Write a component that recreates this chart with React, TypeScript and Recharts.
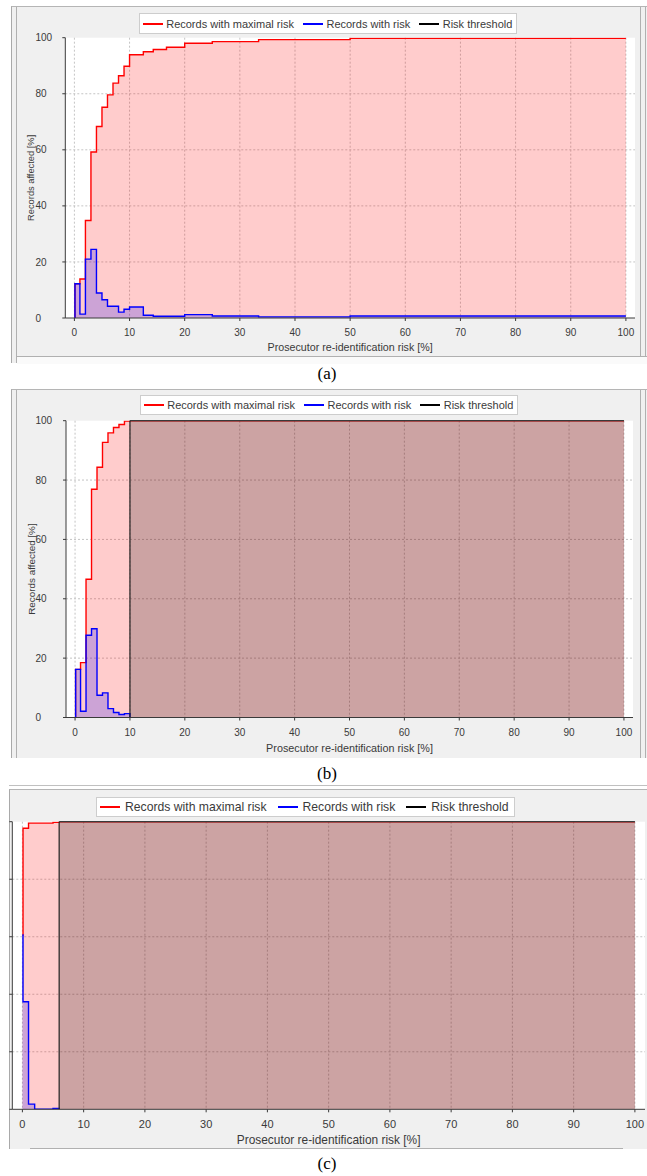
import React from "react";
import {
  ComposedChart,
  Area,
  XAxis,
  YAxis,
  CartesianGrid,
  ReferenceArea,
  ReferenceLine,
  Label,
} from "recharts";

// risk interval start points [%] and the share of records in each interval
const binsA = [0, 0.1, 1, 2, 3, 4, 5, 6, 7, 8, 9, 10, 12.5, 14.3, 16.7, 20, 25, 33.4, 50, 100];
const maxRiskA = [0, 12.2, 13.9, 34.8, 59.2, 68.3, 75.2, 79.6, 83.8, 86.4, 89.8, 93.9, 95.0, 95.8, 96.6, 98.0, 98.6, 99.3, 99.8, 99.8];
const withRiskA = [0, 12.2, 1.4, 21.0, 24.5, 8.9, 6.5, 4.2, 4.2, 2.1, 3.1, 3.9, 1.0, 0.6, 0.6, 1.2, 0.7, 0.4, 0.7, 0.7];

// nothing is drawn for the "with risk" series past the threshold
const binsB = [0, 0.1, 1, 2, 3, 4, 5, 6, 7, 8, 9, 10, 100];
const maxRiskB = [0, 16.2, 18.5, 46.6, 76.9, 84.3, 92.7, 95.9, 97.7, 98.7, 99.9, 100, 100];
const withRiskB = [0, 16.2, 2.1, 27.7, 29.9, 7.5, 8.3, 3.0, 1.7, 1.0, 1.3, 0, null];
const thresholdB = 10;

const binsC = [0, 0.1, 1, 2, 5, 6, 100];
const maxRiskC = [60.6, 97.7, 99.5, 99.5, 99.8, 100, 100];
const withRiskC = [60.6, 37.4, 1.8, 0, 0.3, 0, null];
const thresholdC = 6;

const xTicks = [0, 10, 20, 30, 40, 50, 60, 70, 80, 90, 100];
const yTicks = [0, 20, 40, 60, 80, 100];
const gridY = [20, 40, 60, 80];

const legendItems = [
  { label: "Records with maximal risk", color: "#ff0000" },
  { label: "Records with risk", color: "#0000ff" },
  { label: "Risk threshold", color: "#000000" },
];

const FONT = '"Liberation Sans", Arial, sans-serif';
const TEXT = "#3a3a3a";

function toRows(bins: number[], maxRisk: number[], withRisk: (number | null)[]) {
  return bins.map((x, i) => ({ x, maxRisk: maxRisk[i], withRisk: withRisk[i] }));
}

interface LegendProps {
  left: number;
  top: number;
  height: number;
  fontSize: number;
  lineW: number;
  gap: number;
  itemGap: number;
  padL: number;
  padR: number;
}

function LegendBox({ left, top, height, fontSize, lineW, gap, itemGap, padL, padR }: LegendProps) {
  return (
    <div
      style={{
        position: "absolute",
        left,
        top,
        height,
        boxSizing: "border-box",
        display: "flex",
        alignItems: "center",
        background: "#fff",
        border: "1px solid #cdcdcd",
        paddingLeft: padL,
        paddingRight: padR,
        fontFamily: FONT,
        fontSize,
        color: TEXT,
        whiteSpace: "nowrap",
      }}
    >
      {legendItems.map((it, i) => (
        <span key={it.label} style={{ display: "flex", alignItems: "center", marginLeft: i ? itemGap : 0 }}>
          <span style={{ display: "inline-block", width: lineW, height: 2, background: it.color, marginRight: gap }} />
          {it.label}
        </span>
      ))}
    </div>
  );
}

interface PanelProps {
  top: number;
  height: number;
  rows: { x: number; maxRisk: number; withRisk: number | null }[];
  threshold?: number;
  margin: { top: number; right: number; bottom: number; left: number };
  yAxisWidth: number;
  yTickX?: number;
  tickFont: number;
  xLabelFont: number;
  xLabelOffset: number;
  yLabelFont?: number;
}

function RiskPanel(p: PanelProps) {
  const yTick = (t: any) =>
    p.yTickX !== undefined ? (
      <text x={p.yTickX} y={t.y} dy={p.tickFont * 0.36} textAnchor="start" fontSize={p.tickFont} fill={TEXT} fontFamily={FONT}>
        {t.payload.value}
      </text>
    ) : (
      <g />
    );

  return (
    <div style={{ position: "absolute", left: 0, top: p.top }}>
      <ComposedChart width={647} height={p.height} data={p.rows} margin={p.margin}>
        <CartesianGrid stroke="#c4c4c4" strokeDasharray="2 2" fill="#fff" horizontalValues={gridY} verticalValues={xTicks} />
        <XAxis
          dataKey="x"
          type="number"
          domain={[-1.65, 101.65]}
          ticks={xTicks}
          allowDataOverflow
          height={40}
          tickSize={3}
          tickMargin={8}
          stroke="#3a3a3a"
          tick={{ fontSize: p.tickFont, fill: TEXT, fontFamily: FONT }}
        >
          <Label
            value="Prosecutor re-identification risk [%]"
            position="insideBottom"
            offset={p.xLabelOffset}
            fontSize={p.xLabelFont}
            fill={TEXT}
            fontFamily={FONT}
          />
        </XAxis>
        <YAxis
          type="number"
          domain={[0, 100]}
          ticks={yTicks}
          allowDataOverflow
          width={p.yAxisWidth}
          tickSize={3}
          stroke="#3a3a3a"
          tick={yTick}
        >
          {p.yLabelFont !== undefined && (
            <Label
              value="Records affected [%]"
              angle={-90}
              position="insideLeft"
              offset={5}
              style={{ textAnchor: "middle" }}
              fontSize={p.yLabelFont}
              fill={TEXT}
              fontFamily={FONT}
            />
          )}
        </YAxis>
        <Area
          type="stepAfter"
          dataKey="maxRisk"
          stroke="#ff0000"
          strokeWidth={1.4}
          fill="#ff0000"
          fillOpacity={0.2}
          dot={false}
          activeDot={false}
          isAnimationActive={false}
        />
        <Area
          type="stepAfter"
          dataKey="withRisk"
          stroke="#0000ff"
          strokeWidth={1.4}
          fill="#0000ff"
          fillOpacity={0.2}
          dot={false}
          activeDot={false}
          isAnimationActive={false}
        />
        {p.threshold !== undefined && (
          <ReferenceArea x1={p.threshold} x2={100} y1={0} y2={100} fill="#000" fillOpacity={0.2} stroke="none" zIndex={150} />
        )}
        {p.threshold !== undefined && <ReferenceLine x={p.threshold} stroke="#222" strokeWidth={1.2} zIndex={150} />}
        {p.threshold !== undefined && (
          <ReferenceLine
            segment={[
              { x: p.threshold, y: 100 },
              { x: 100, y: 100 },
            ]}
            stroke="#3a3a3a"
            strokeWidth={1.2}
            zIndex={150}
          />
        )}
      </ComposedChart>
    </div>
  );
}

function Frame({ left, top, width, height, inner }: { left: number; top: number; width: number; height: number; inner?: boolean }) {
  return (
    <>
      <div
        style={{
          position: "absolute",
          left,
          top,
          width,
          height,
          background: "#f0f0f0",
          borderLeft: "1px solid #a9a9a9",
          borderTop: "1px solid #b5b5b5",
          boxSizing: "border-box",
        }}
      />
      {inner && (
        <>
          <div style={{ position: "absolute", left: left + 5, top: top + 1, width: 1, height: height - 1, background: "#b0b0b0" }} />
          <div style={{ position: "absolute", left: 640, top: top + 1, width: 1, height: height - 1, background: "#b0b0b0" }} />
          <div style={{ position: "absolute", left: 645, top: top + 1, width: 1, height: height - 1, background: "#b0b0b0" }} />
        </>
      )}
    </>
  );
}

function Caption({ text, y }: { text: string; y: number }) {
  return (
    <div
      style={{
        position: "absolute",
        left: 277,
        top: y - 10,
        width: 100,
        lineHeight: "20px",
        textAlign: "center",
        fontFamily: '"Liberation Serif", "Times New Roman", serif',
        fontSize: 17,
        color: "#000",
      }}
    >
      {text}
    </div>
  );
}

export default function App() {
  return (
    <div style={{ position: "absolute", left: 0, top: 0, width: 647, height: 1176, background: "#fff", overflow: "hidden" }}>
      {/* (a) */}
      <Frame left={11} top={6} width={636} height={357} inner />
      <div style={{ position: "absolute", left: 17, top: 356, width: 630, height: 7, background: "#fafafa", borderTop: "1px solid #b0b0b0" }} />
      <RiskPanel
        top={0}
        height={365}
        rows={toRows(binsA, maxRiskA, withRiskA)}
        margin={{ top: 37.7, right: 12, bottom: 7, left: 25.3 }}
        yAxisWidth={40}
        yTickX={35.5}
        tickFont={10}
        xLabelFont={10.7}
        xLabelOffset={7}
        yLabelFont={9.3}
      />
      <LegendBox left={139} top={13} height={21} fontSize={11} lineW={20} gap={3.5} itemGap={9} padL={2.7} padR={4} />
      <Caption text="(a)" y={374} />

      {/* (b) */}
      <Frame left={11} top={389} width={636} height={369} inner />
      <RiskPanel
        top={380}
        height={380}
        rows={toRows(binsB, maxRiskB, withRiskB)}
        threshold={thresholdB}
        margin={{ top: 40.7, right: 14, bottom: 2.5, left: 26 }}
        yAxisWidth={40}
        yTickX={35.5}
        tickFont={10}
        xLabelFont={10.8}
        xLabelOffset={5.5}
        yLabelFont={9.9}
      />
      <LegendBox left={140} top={395} height={20} fontSize={11} lineW={20} gap={3.5} itemGap={9} padL={2.7} padR={4} />
      <Caption text="(b)" y={774} />

      {/* (c) */}
      <div style={{ position: "absolute", left: 9, top: 785, width: 638, height: 1, background: "#c0c0c0" }} />
      <Frame left={9} top={789} width={638} height={360} />
      <div style={{ position: "absolute", left: 30, top: 1148, width: 593, height: 1, background: "#b0b0b0" }} />
      <RiskPanel
        top={760}
        height={400}
        rows={toRows(binsC, maxRiskC, withRiskC)}
        threshold={thresholdC}
        margin={{ top: 61.7, right: 2, bottom: 10.7, left: 11.3 }}
        yAxisWidth={1}
        tickFont={11}
        xLabelFont={11.9}
        xLabelOffset={5}
      />
      <LegendBox left={95.7} top={796.5} height={20.5} fontSize={12.2} lineW={20} gap={5} itemGap={11} padL={3.3} padR={5.7} />
      <Caption text="(c)" y={1163.5} />
    </div>
  );
}
